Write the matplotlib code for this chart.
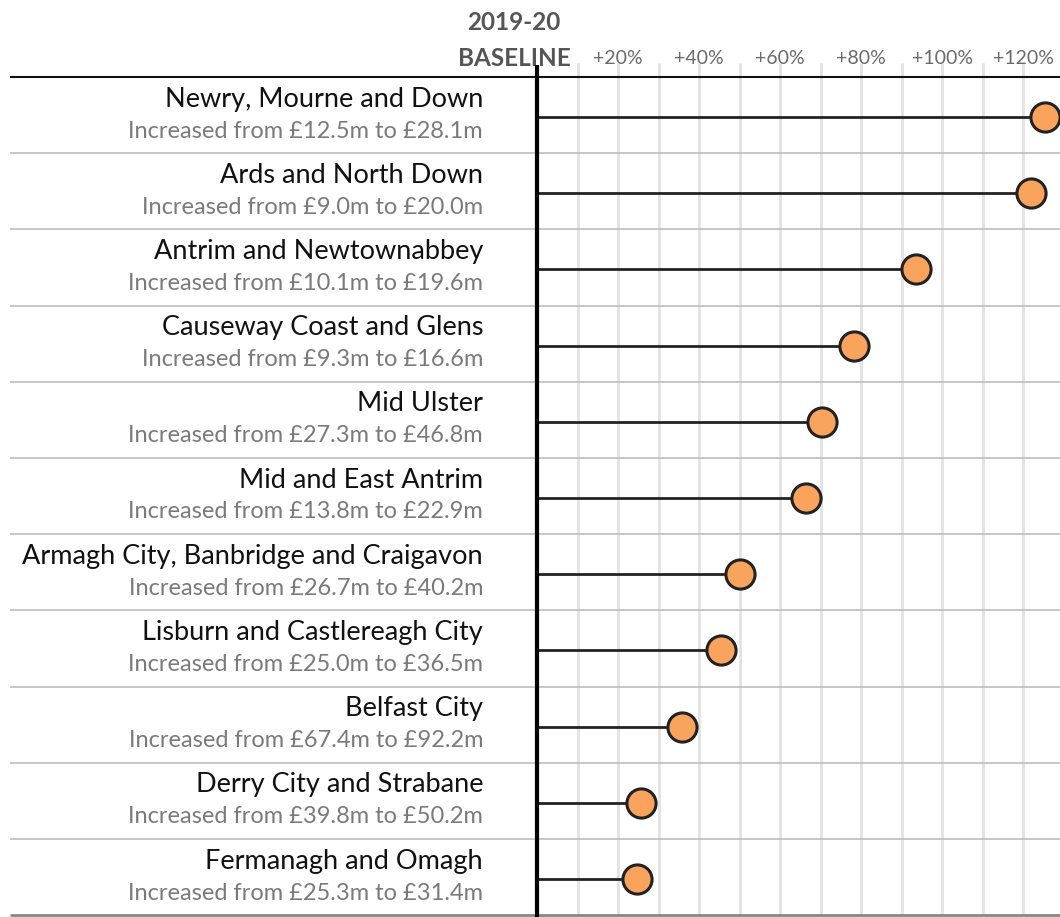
import numpy as np
import matplotlib.pyplot as plt

councils = ['Newry, Mourne and Down', 'Ards and North Down', 'Antrim and Newtownabbey',
            'Causeway Coast and Glens', 'Mid Ulster', 'Mid and East Antrim',
            'Armagh City, Banbridge and Craigavon', 'Lisburn and Castlereagh City',
            'Belfast City', 'Derry City and Strabane', 'Fermanagh and Omagh']
start_m = [12.5, 9.0, 10.1, 9.3, 27.3, 13.8, 26.7, 25.0, 67.4, 39.8, 25.3]
end_m = [28.1, 20.0, 19.6, 16.6, 46.8, 22.9, 40.2, 36.5, 92.2, 50.2, 31.4]
pct_increase = [125.5, 122.0, 93.5, 78.3, 70.3, 66.5, 50.0, 45.5, 35.8, 25.8, 24.7]
grid_vals = list(range(10, 130, 10))
tick_vals = [20, 40, 60, 80, 100, 120]

W, H = 1060, 917
base_px = 537      # pixel x of 0%
px_per_pct = 4.05

def px(x):
    return (x - base_px) / px_per_pct

plt.rcParams['font.family'] = ['Lato', 'DejaVu Sans']

fig = plt.figure(figsize=(W / 100, H / 100), dpi=100)
ax = fig.add_axes([0, 0, 1, 1])
ax.set_xlim(px(0), px(W))
ax.set_ylim(H, 0)
ax.axis('off')

top = 77
row_h = 76.2
n = len(councils)

# grid
ax.vlines(grid_vals, 63, top + n * row_h, color='#e2e2e2', lw=2, zorder=1)

# header
ax.text(px(514), 22, '2019-20', ha='center', va='center', fontsize=17.5,
        fontweight='bold', color='#555555')
ax.text(px(514), 58, 'BASELINE', ha='center', va='center', fontsize=17.5,
        fontweight='bold', color='#555555')
for t in tick_vals:
    ax.text(t, 58, '+%d%%' % t, ha='center', va='center', fontsize=14,
            color='#6a6a6a')

# row lines
ax.hlines(top, px(10), px(W), color='#111111', lw=1.5, zorder=2)
for i in range(1, n):
    ax.hlines(top + i * row_h, px(10), px(W), color='#bdbdbd', lw=1.2, zorder=2)
ax.hlines(top + n * row_h, px(10), px(W), color='#888888', lw=2, zorder=2)

# baseline
ax.vlines(0, 65, H, color='#000000', lw=3, zorder=4)

for i, (name, a, b, p) in enumerate(zip(councils, start_m, end_m, pct_increase)):
    y0 = top + i * row_h
    ax.text(px(483), y0 + 22, name, ha='right', va='center', fontsize=19.5,
            color='#111111')
    ax.text(px(483), y0 + 54, 'Increased from £%.1fm to £%.1fm' % (a, b),
            ha='right', va='center', fontsize=17, color='#7a7a7a')
    yl = y0 + 40
    ax.plot([0, p], [yl, yl], color='#222222', lw=2, zorder=3, solid_capstyle='butt')
    ax.plot(p, yl, 'o', ms=21, mfc='#f9a35c', mec='#222222', mew=2.2, zorder=5,
            clip_on=False)

fig.savefig('out.png', dpi=100)
